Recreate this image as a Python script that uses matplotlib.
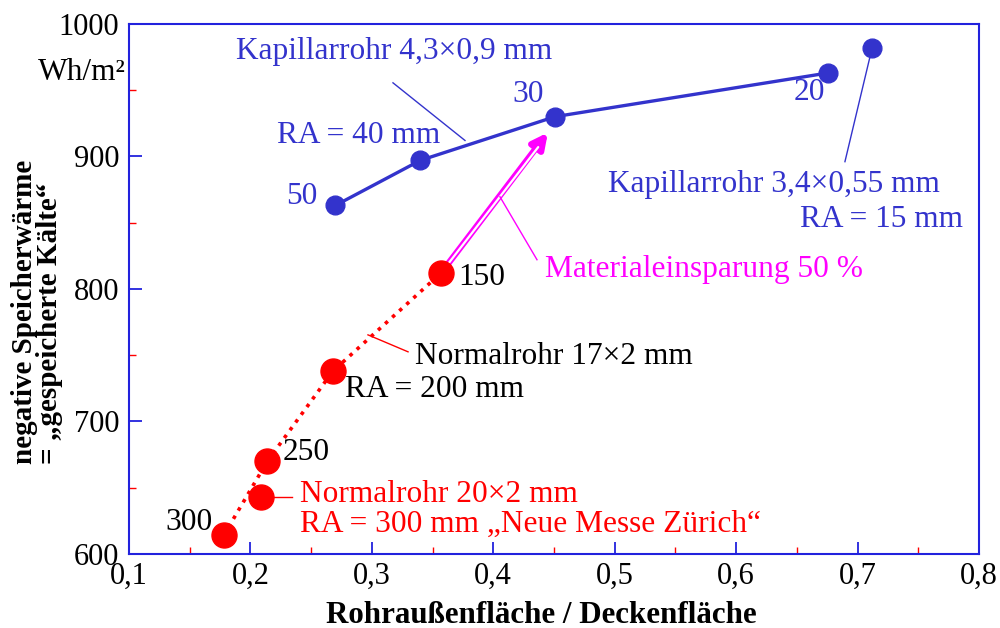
import matplotlib.pyplot as plt
from matplotlib.ticker import MultipleLocator, FuncFormatter

plt.rcParams['font.family'] = ['Liberation Serif', 'DejaVu Serif']

# Kapillarrohr 4,3x0,9 mm, RA = 50 / 40 / 30 / 20 mm
kap_x = [0.270, 0.340, 0.451, 0.676]
kap_y = [863, 897, 930, 963]
kap_ra = ['50', '40', '30', '20']

# Kapillarrohr 3,4x0,55 mm, RA = 15 mm
kap2_x = [0.712]
kap2_y = [982]

# Normalrohr 17x2 mm, RA = 300 / 250 / 200 / 150 mm
nr_x = [0.178, 0.214, 0.268, 0.357]
nr_y = [614, 670, 738, 812]

# Normalrohr 20x2 mm, RA = 300 mm (Neue Messe Zuerich)
nr2_x = [0.209]
nr2_y = [643]

blue = '#3333cc'
frame = '#2222dd'
red = '#ff0000'
mag = '#ff00ff'
fs = 22
ts = 22.6

fig = plt.figure(figsize=(10, 6.28), dpi=100)
ax = fig.add_axes([0.129, 0.118, 0.85, 0.844])

ax.set_xlim(0.1, 0.8)
ax.set_ylim(600, 1000)
for s in ax.spines.values():
    s.set_color(frame)
    s.set_linewidth(1.5)

ax.xaxis.set_major_locator(MultipleLocator(0.1))
ax.xaxis.set_minor_locator(MultipleLocator(0.05))
ax.yaxis.set_major_locator(MultipleLocator(100))
ax.yaxis.set_minor_locator(MultipleLocator(50))
ax.xaxis.set_major_formatter(FuncFormatter(lambda v, p: f'{v:.1f}'.replace('.', ',')))
ax.tick_params(which='major', direction='in', length=9, width=1.3, color=frame,
               labelsize=fs, top=False, right=False)
ax.tick_params(axis='x', which='major', pad=6)
ax.tick_params(axis='y', which='major', pad=7)
ax.tick_params(which='minor', direction='in', length=5, width=1, color=red,
               top=False, right=False)

# curves
ax.plot(kap_x, kap_y, '-', color=blue, lw=2.4, marker='o', ms=13.5, zorder=4)
ax.plot(kap2_x, kap2_y, 'o', color=blue, ms=13.5, zorder=4)
ax.plot(nr_x, nr_y, ':', color=red, lw=2.6, zorder=3)
ax.plot(nr_x, nr_y, 'o', color=red, ms=18, zorder=4)
ax.plot(nr2_x, nr2_y, 'o', color=red, ms=18, zorder=4)

# arrow: Materialeinsparung
ax.annotate('', xy=(0.445, 918), xytext=(nr_x[3], nr_y[3]),
            arrowprops=dict(arrowstyle='-|>,head_length=0.9,head_width=0.45',
                            color=mag, lw=4.5, shrinkA=6, shrinkB=0), zorder=2)
ax.annotate('', xy=(0.437, 907), xytext=(nr_x[3], nr_y[3]),
            arrowprops=dict(arrowstyle='-', color='white', lw=1.6,
                            shrinkA=8, shrinkB=0), zorder=2)

# labels
ax.text(0.318, 979, 'Kapillarrohr 4,3×0,9 mm', color=blue, fontsize=ts, ha='center', va='center')
ax.plot([0.3174, 0.3767], [955.5, 912], color=blue, lw=1)
ax.text(0.222, 916, 'RA = 40 mm', color=blue, fontsize=ts, ha='left', va='center')
ax.text(0.2556, 869.5, kap_ra[0], color=blue, fontsize=ts, ha='right', va='center')
ax.text(0.4286, 946.5, kap_ra[2], color=blue, fontsize=ts, ha='center', va='center')
ax.text(0.66, 948, kap_ra[3], color=blue, fontsize=ts, ha='center', va='center')

ax.text(0.4945, 878.5, 'Kapillarrohr 3,4×0,55 mm', color=blue, fontsize=ts, ha='left', va='center')
ax.text(0.7868, 852, 'RA = 15 mm', color=blue, fontsize=ts, ha='right', va='center')
ax.plot([kap2_x[0], 0.6896], [kap2_y[0], 896], color=blue, lw=1)

ax.text(0.4426, 814.5, 'Materialeinsparung 50 %', color=mag, fontsize=ts, ha='left', va='center')
ax.plot([0.4055, 0.436], [869.5, 822], color=mag, lw=1)

ax.text(0.371, 808.5, '150', color='black', fontsize=ts, ha='left', va='center')
ax.text(0.3355, 749, 'Normalrohr 17×2 mm', color='black', fontsize=ts, ha='left', va='center')
ax.plot([0.2968, 0.3298], [765.3, 752.5], color=red, lw=1)
ax.text(0.2779, 724, 'RA = 200 mm', color='black', fontsize=ts, ha='left', va='center')
ax.text(0.2268, 676.5, '250', color='black', fontsize=ts, ha='left', va='center')
ax.text(0.1692, 623.5, '300', color='black', fontsize=ts, ha='right', va='center')

ax.text(0.2408, 644.5, 'Normalrohr 20×2 mm', color=red, fontsize=ts, ha='left', va='center')
ax.text(0.2408, 622, 'RA = 300 mm „Neue Messe Zürich“', color=red, fontsize=ts,
        ha='left', va='center')
ax.plot([nr2_x[0], 0.234], [nr2_y[0], 643], color=red, lw=1, zorder=3)

ax.text(0.0613, 963, 'Wh/m²', color='black', fontsize=ts, ha='center', va='center',
        clip_on=False)

ax.set_xlabel('Rohraußenfläche / Deckenfläche', fontsize=22.3, fontweight='bold')
ax.xaxis.set_label_coords(0.485, -0.088)
fig.text(0.037, 1 - 312 / 628, 'negative Speicherwärme\n= „gespeicherte Kälte“',
         fontsize=21, fontweight='bold', rotation=90, ha='center', va='center',
         multialignment='left', linespacing=0.88)

fig.savefig('out.png', dpi=100)
